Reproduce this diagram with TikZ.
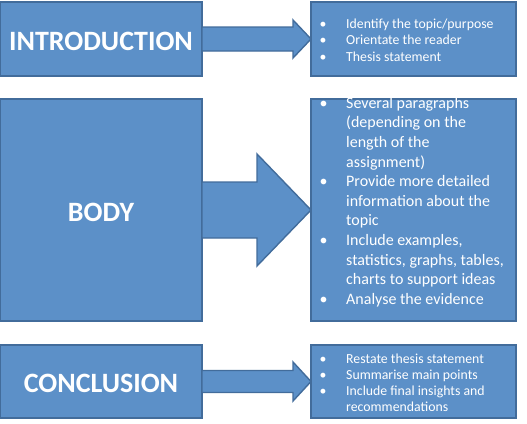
\documentclass[tikz,border=0pt]{standalone}
\usepackage{fontspec}
\setmainfont{Carlito}
\usetikzlibrary{calc}
\definecolor{boxfill}{RGB}{92,144,200}
\definecolor{boxline}{RGB}{66,108,155}
\tikzset{
  lbox/.style={draw=boxline, fill=boxfill, line width=1.4pt, inner sep=0pt, outer sep=0pt,
    text=white, text height=22pt, text depth=0pt, font=\fontsize{28}{30}\selectfont\bfseries},
  rbox/.style={draw=boxline, fill=boxfill, line width=1.4pt, inner sep=0pt, outer sep=0pt},
  blist/.style={anchor=base west, inner sep=0pt, text=white},
  barrow/.style={draw=boxline, fill=boxfill, line width=1.4pt, line join=miter}
}
\newcommand{\blockarrowdraw}[5]{%
  \draw[barrow] ($(#1.east)+(0,-#3)$) -- ($(#2.west)+(-#5,-#3)$) -- ($(#2.west)+(-#5,-#4)$)
    -- (#2.west) -- ($(#2.west)+(-#5,#4)$) -- ($(#2.west)+(-#5,#3)$) -- ($(#1.east)+(0,#3)$) -- cycle;}
\begin{document}
\begin{tikzpicture}[x=1pt,y=-1pt]
\useasboundingbox (0,0) rectangle (527,423);
% left boxes
\node[lbox, minimum width=202pt, minimum height=74pt] (intro) at (101,39) {INTRODUCTION};
\node[lbox, minimum width=202pt, minimum height=222pt] (body) at (101,210) {BODY};
\node[lbox, minimum width=202pt, minimum height=73pt] (concl) at (101,381.5) {CONCLUSION};
% right boxes
\node[rbox, minimum width=205pt, minimum height=74pt] (introR) at (413.5,39) {};
\node[rbox, minimum width=205pt, minimum height=222pt] (bodyR) at (413.5,210) {};
\node[rbox, minimum width=205pt, minimum height=73pt] (conclR) at (413.5,381.5) {};
% arrows
\blockarrowdraw{intro}{introR}{12}{19}{18}
\blockarrowdraw{body}{bodyR}{28}{56}{54}
\blockarrowdraw{concl}{conclR}{11}{19.5}{18}
% texts
\node[blist, font=\fontsize{13.8}{16.3}\selectfont] (introT) at (319.5,28.5) {%
\begin{tabular}[t]{@{}p{26.5pt}@{}l@{}}
\textbullet & Identify the topic/purpose\\
\textbullet & Orientate the reader\\
\textbullet & Thesis statement
\end{tabular}};
\node[blist, font=\fontsize{16}{19.6}\selectfont] (bodyT) at (319.5,108.3) {%
\begin{tabular}[t]{@{}p{26.5pt}@{}l@{}}
\textbullet & Several paragraphs\\
 & (depending on the\\
 & length of the\\
 & assignment)\\
\textbullet & Provide more detailed\\
 & information about the\\
 & topic\\
\textbullet & Include examples,\\
 & statistics, graphs, tables,\\
 & charts to support ideas\\
\textbullet & Analyse the evidence
\end{tabular}};
\node[blist, font=\fontsize{13.8}{16}\selectfont] (conclT) at (319.5,363.3) {%
\begin{tabular}[t]{@{}p{26.5pt}@{}l@{}}
\textbullet & Restate thesis statement\\
\textbullet & Summarise main points\\
\textbullet & Include final insights and\\
 & recommendations
\end{tabular}};
\end{tikzpicture}
\end{document}
